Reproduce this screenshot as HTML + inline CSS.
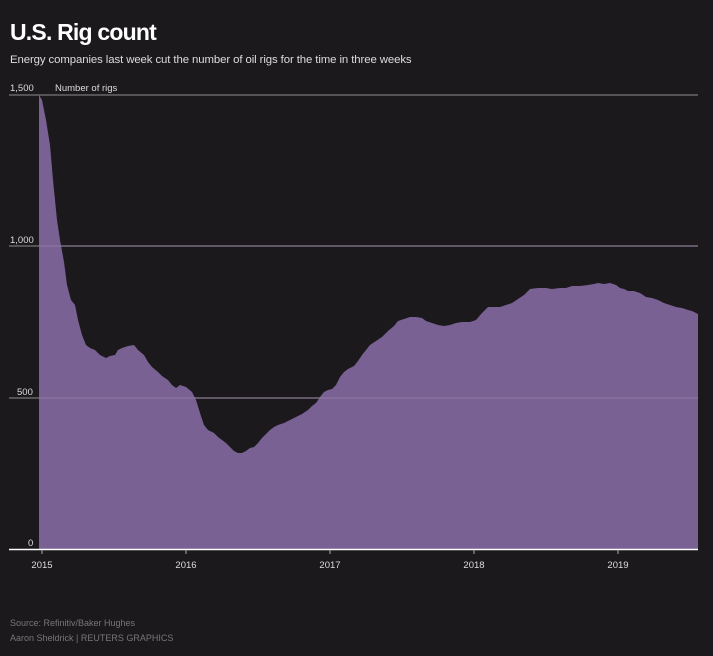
<!DOCTYPE html><html><head><style>body{margin:0;background:#1b191c;width:713px;height:651px;overflow:hidden}</style></head><body>
<svg width="713" height="651" xmlns="http://www.w3.org/2000/svg" font-family="'Liberation Sans',sans-serif">
<rect width="713" height="651" fill="#1b191c"/>
<text x="10" y="40" fill="#fff" font-size="23" font-weight="bold" letter-spacing="-0.8">U.S. Rig count</text>
<text x="10" y="63" fill="#ddd" font-size="11.4" letter-spacing="-0.1">Energy companies last week cut the number of oil rigs for the time in three weeks</text>
<g stroke="#777" stroke-width="1.2"><line x1="9" y1="95" x2="698" y2="95"/><line x1="9" y1="246" x2="698" y2="246"/><line x1="9" y1="398" x2="698" y2="398"/></g>
<polygon fill="#7a6194" points="39,549 39,95 42,100 46,120 50,145 53,180 57,220 60,240 64,262 67,285 71,300 75,305 78,320 82,335 86,345 90,348 95,350 100,355 106,358 110,356 115,355 118,350 122,348 128,346 134,345 138,350 144,355 148,362 152,367 158,372 162,376 168,380 172,385 176,388 180,385 186,387 192,392 196,400 200,413 204,425 208,430 214,433 218,437 222,440 226,443 230,447 234,451 238,453 242,453 246,451 250,448 254,447 258,443 262,438 266,434 270,430 274,427 278,425 284,423 290,420 296,417 302,414 308,410 312,406 316,403 320,397 324,392 328,390 332,389 336,385 340,377 344,372 348,369 354,366 358,361 362,355 366,350 370,345 376,341 382,337 388,331 394,326 398,321 404,319 410,317 416,317 422,318 426,321 432,323 438,325 444,326 450,325 456,323 462,322 470,322 476,320 482,313 488,307 494,307 500,307 506,305 512,303 518,299 524,295 530,289 538,288 546,288 552,289 560,288 566,288 572,286 580,286 588,285 594,284 598,283 604,284 610,283 616,285 620,288 624,289 628,291 634,291 640,293 646,297 652,298 658,300 664,303 670,305 676,307 682,308 688,310 692,311 698,314 698,549"/>
<g stroke="#9a86ad" stroke-width="1" opacity="0.7"><line x1="39" y1="246" x2="698" y2="246"/><line x1="39" y1="398" x2="698" y2="398"/></g>
<line x1="9" y1="549.5" x2="698" y2="549.5" stroke="#fff" stroke-width="1.5"/>
<g fill="#ddd" font-size="9.5"><text x="10" y="91">1,500</text><text x="55" y="91">Number of rigs</text><text x="10" y="243">1,000</text><text x="17" y="395">500</text><text x="28" y="546">0</text>
<g text-anchor="middle"><text x="42" y="568">2015</text><text x="186" y="568">2016</text><text x="330" y="568">2017</text><text x="474" y="568">2018</text><text x="618" y="568">2019</text></g></g>
<g stroke="#aaa"><line x1="42" y1="550" x2="42" y2="554"/><line x1="186" y1="550" x2="186" y2="554"/><line x1="330" y1="550" x2="330" y2="554"/><line x1="474" y1="550" x2="474" y2="554"/><line x1="618" y1="550" x2="618" y2="554"/></g>
<g fill="#777" font-size="9"><text x="10" y="626">Source: Refinitiv/Baker Hughes</text><text x="10" y="641">Aaron Sheldrick   | REUTERS GRAPHICS</text></g>
</svg></body></html>
